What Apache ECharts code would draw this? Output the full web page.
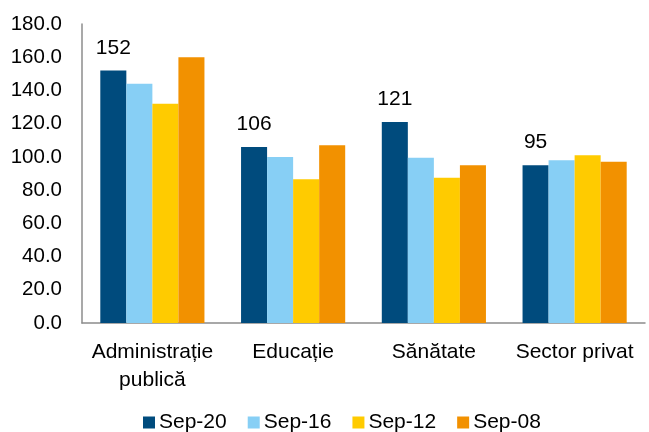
<!DOCTYPE html>
<html>
<head>
<meta charset="utf-8">
<script src="https://cdn.jsdelivr.net/npm/echarts@6/dist/echarts.min.js"></script>
<style>
  html, body { margin: 0; padding: 0; background: #fff; }
  #chart { width: 649px; height: 432px; }
</style>
</head>
<body>
<div id="chart"></div>
<script>
// categorii si serii
let categories = ['Administrație\npublică', 'Educație', 'Sănătate', 'Sector privat'];
let seriesNames = ['Sep-20', 'Sep-16', 'Sep-12', 'Sep-08'];
let sep20 = [152, 106, 121, 95];
let sep16 = [144, 100, 99.5, 98];
let sep12 = [132, 86.5, 87.5, 101];
let sep08 = [160, 107, 95, 97];
let colors = ['#004B7D', '#87CFF5', '#FFCB00', '#F29100'];

let fontFam = '"Liberation Sans", Arial, sans-serif';
let allData = [sep20, sep16, sep12, sep08];

let series = allData.map(function (arr, i) {
  let s = {
    name: seriesNames[i],
    type: 'bar',
    data: arr,
    barGap: '0%',
    barCategoryGap: '26%',
    itemStyle: { color: colors[i] }
  };
  // doar seria Sep-20 are etichete
  if (i === 0) {
    s.label = {
      show: true,
      position: 'top',
      distance: 12,
      color: '#000',
      fontSize: 21,
      fontFamily: fontFam
    };
  }
  return s;
});

let option = {
  animation: false,
  color: colors,
  grid: { left: 82, right: 4, top: 24, bottom: 109 },
  legend: {
    data: seriesNames,
    left: 143,
    top: 412,
    padding: 0,
    icon: 'rect',
    itemWidth: 12,
    itemHeight: 12,
    itemGap: 21,
    textStyle: { fontSize: 21, color: '#000', fontFamily: fontFam, padding: [0, 0, 0, -1] }
  },
  xAxis: {
    type: 'category',
    data: categories,
    axisLine: { lineStyle: { color: '#8c8c8c', width: 1.5 } },
    axisTick: { show: false },
    axisLabel: {
      color: '#000',
      fontSize: 21,
      fontFamily: fontFam,
      margin: 15,
      lineHeight: 28,
      interval: 0
    }
  },
  yAxis: {
    type: 'value',
    min: 0,
    max: 180,
    interval: 20,
    splitLine: { show: false },
    axisLine: { show: true, lineStyle: { color: '#8c8c8c', width: 1.5 } },
    axisTick: { show: false },
    axisLabel: {
      color: '#000',
      fontSize: 20.5,
      fontFamily: fontFam,
      margin: 20,
      formatter: function (v) { return v.toFixed(1); }
    }
  },
  series: series
};

let myChart = echarts.init(document.getElementById('chart'));
myChart.setOption(option);
</script>
</body>
</html>
